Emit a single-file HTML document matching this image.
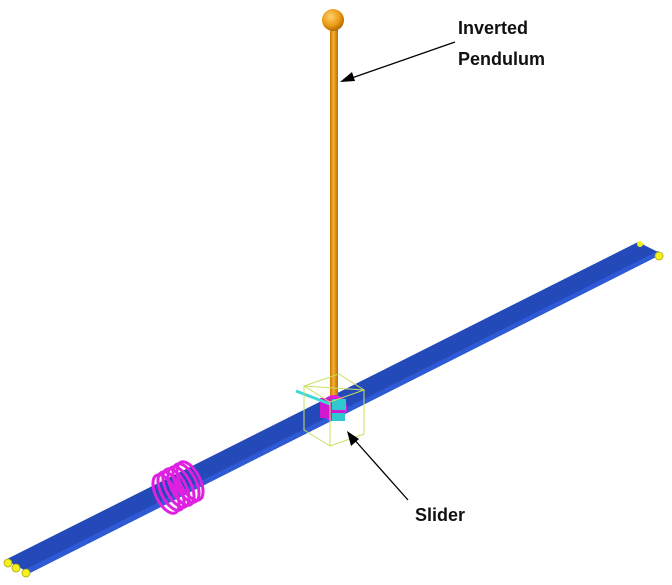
<!DOCTYPE html>
<html><head><style>
body{margin:0;width:672px;height:580px;background:#fff;overflow:hidden}
</style></head><body>
<svg width="672" height="580" xmlns="http://www.w3.org/2000/svg">
<defs>
<linearGradient id="rod" x1="0" x2="1"><stop offset="0" stop-color="#c77a00"/><stop offset="0.45" stop-color="#f5b030"/><stop offset="1" stop-color="#b86e00"/></linearGradient>
<radialGradient id="ball" cx="0.4" cy="0.35" r="0.7"><stop offset="0" stop-color="#ffd070"/><stop offset="0.6" stop-color="#eb9a10"/><stop offset="1" stop-color="#a86000"/></radialGradient>
</defs>
<!-- beam -->
<polygon points="5,560 638,242 662,254 30,573" fill="#2449b8"/>
<polygon points="26,569 658,251 662,254 30,573" fill="#2f5ad6"/>
<!-- end points -->
<circle cx="8" cy="563" r="4" fill="#f5f020" stroke="#b0a800" stroke-width="0.8"/>
<circle cx="16" cy="568" r="4" fill="#f5f020" stroke="#b0a800" stroke-width="0.8"/>
<circle cx="26" cy="573" r="4" fill="#f5f020" stroke="#b0a800" stroke-width="0.8"/>
<circle cx="640" cy="244" r="3" fill="#f5f020"/>
<circle cx="659" cy="256" r="4" fill="#f5f020" stroke="#b0a800" stroke-width="0.8"/>
<!-- spring -->
<g fill="none" stroke="#e020e0" stroke-width="3">
<ellipse cx="166" cy="494" rx="10" ry="21" transform="rotate(-27 166 494)"/>
<ellipse cx="171" cy="491" rx="10" ry="21" transform="rotate(-27 171 491)"/>
<ellipse cx="176" cy="488" rx="10" ry="21" transform="rotate(-27 176 488)"/>
<ellipse cx="181" cy="486" rx="10" ry="21" transform="rotate(-27 181 486)"/>
<ellipse cx="186" cy="483" rx="10" ry="21" transform="rotate(-27 186 483)"/>
<ellipse cx="190" cy="481" rx="10" ry="21" transform="rotate(-27 190 481)"/>
</g>
<!-- rod & ball -->
<rect x="330" y="28" width="8" height="376" fill="url(#rod)"/>
<circle cx="333" cy="20" r="11" fill="url(#ball)"/>
<!-- slider -->
<circle cx="334" cy="408" r="13" fill="#e020e0"/>
<rect x="320" y="398" width="24" height="20" fill="#d018d0"/>
<line x1="296" y1="391" x2="330" y2="404" stroke="#40d8d8" stroke-width="3"/>
<rect x="332" y="399" width="14" height="11" fill="#30c8d0"/>
<rect x="332" y="413" width="13" height="8" fill="#30c8d0"/>
<g fill="none" stroke="#c8e060" stroke-width="1">
<polygon points="304,386 339,374 364,390 330,402"/>
<polygon points="304,386 304,430 330,446 364,434 364,390"/>
<line x1="330" y1="402" x2="330" y2="446"/>
</g>
<!-- arrows -->
<line x1="455" y1="42" x2="346" y2="80" stroke="#000" stroke-width="1.3"/>
<polygon points="340,82 352,72 355,81" fill="#000"/>
<line x1="408" y1="500" x2="352" y2="437" stroke="#000" stroke-width="1.3"/>
<polygon points="347,431 359,439 351,446" fill="#000"/>
<g font-family="Liberation Sans, sans-serif" font-weight="bold" font-size="18" fill="#111">
<text x="458" y="34">Inverted</text>
<text x="458" y="65">Pendulum</text>
<text x="415" y="521">Slider</text>
</g>
</svg>
</body></html>
